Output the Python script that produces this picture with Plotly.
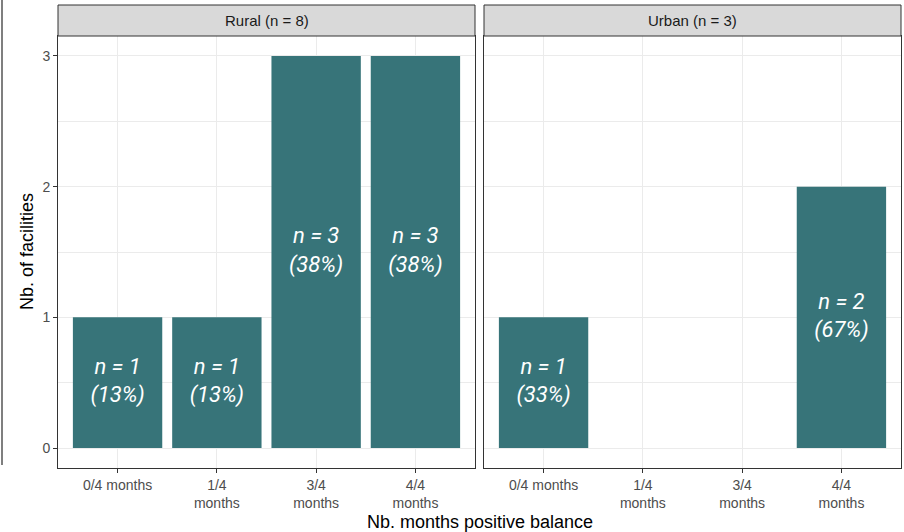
import plotly.graph_objects as go

categories = ["0/4 months", "1/4<br>months", "3/4<br>months", "4/4<br>months"]
facets = ["Rural (n = 8)", "Urban (n = 3)"]
rural_counts = [1, 1, 3, 3]
rural_pct = [13, 13, 38, 38]
urban_counts = [1, None, None, 2]
urban_pct = [33, None, None, 67]
y_ticks = [0, 1, 2, 3]

W, H = 904, 532
BAR = "#377479"
GRID = "#ebebeb"
BORDER = "#333333"
FONT = "Liberation Sans, Arial"

def px(x):
    return x / W

def py(y):
    return 1 - y / H

panels = [(58, 475), (484, 901)]
top, bottom = 36, 468
strip_top = 5

fig = go.Figure()

series = [(rural_counts, rural_pct), (urban_counts, urban_pct)]
for i, (counts, pcts) in enumerate(series):
    xa = "x" if i == 0 else "x2"
    ya = "y" if i == 0 else "y2"
    fig.add_trace(go.Bar(x=categories, y=counts, marker=dict(color=BAR, line=dict(width=0)),
                         width=0.9, xaxis=xa, yaxis=ya, showlegend=False, hoverinfo="skip"))
    tx, ty, tt = [], [], []
    for c, n, p in zip(categories, counts, pcts):
        if n:
            tx.append(c)
            ty.append(n / 2)
            tt.append(f"<i>n = {n}</i><br><i>({p}%)</i>")
    fig.add_trace(go.Scatter(x=tx, y=ty, text=tt, mode="text", xaxis=xa, yaxis=ya,
                             textfont=dict(family="Roboto", size=22, color="white"),
                             showlegend=False, hoverinfo="skip"))

axis_common = dict(showgrid=True, gridcolor=GRID, gridwidth=1, zeroline=False,
                   showline=True, linecolor=BORDER, linewidth=1, mirror=True,
                   tickfont=dict(family=FONT, size=14, color="#4d4d4d"))

yr = [-0.153, 3.153]
layout = dict(
    width=W, height=H, margin=dict(l=0, r=0, t=0, b=0),
    plot_bgcolor="white", paper_bgcolor="white",
    xaxis=dict(domain=[px(panels[0][0]), px(panels[0][1])], anchor="y",
               categoryorder="array", categoryarray=categories, range=[-0.6, 3.6],
               ticks="outside", ticklen=4, tickcolor=BORDER, **axis_common),
    xaxis2=dict(domain=[px(panels[1][0]), px(panels[1][1])], anchor="y2",
                categoryorder="array", categoryarray=categories, range=[-0.6, 3.6],
                ticks="outside", ticklen=4, tickcolor=BORDER, **axis_common),
    yaxis=dict(domain=[py(bottom), py(top)], anchor="x", range=yr, tickvals=y_ticks,
               ticks="outside", ticklen=4, tickcolor=BORDER,
               minor=dict(tickvals=[0.5, 1.5, 2.5], showgrid=True, gridcolor=GRID, ticks=""),
               **axis_common),
    yaxis2=dict(domain=[py(bottom), py(top)], anchor="x2", range=yr, tickvals=y_ticks,
                showticklabels=False, ticks="",
                minor=dict(tickvals=[0.5, 1.5, 2.5], showgrid=True, gridcolor=GRID, ticks=""),
                **axis_common),
)
fig.update_layout(**layout)

shapes = []
annotations = []
for (x0, x1), name in zip(panels, facets):
    shapes.append(dict(type="rect", xref="paper", yref="paper", x0=px(x0), x1=px(x1),
                       y0=py(top), y1=py(strip_top), fillcolor="#d9d9d9",
                       line=dict(color=BORDER, width=1), layer="above"))
    annotations.append(dict(text=name, xref="paper", yref="paper", x=px((x0 + x1) / 2),
                            y=py((top + strip_top) / 2), showarrow=False, xanchor="center",
                            yanchor="middle", font=dict(family=FONT, size=15, color="#1a1a1a")))

shapes.append(dict(type="line", xref="paper", yref="paper", x0=px(2), x1=px(2), y0=py(0), y1=py(465),
                   line=dict(color="#555555", width=1.5)))

annotations.append(dict(text="Nb. of facilities", xref="paper", yref="paper", x=px(27),
                        y=py((top + bottom) / 2), textangle=-90, showarrow=False,
                        xanchor="center", yanchor="middle",
                        font=dict(family=FONT, size=18, color="black")))
annotations.append(dict(text="Nb. months positive balance", xref="paper", yref="paper",
                        x=px(480), y=py(522), showarrow=False, xanchor="center", yanchor="middle",
                        font=dict(family=FONT, size=18, color="black")))

fig.update_layout(shapes=shapes, annotations=annotations)
fig.write_html("out.html", config={"displayModeBar": False},
               post_script="document.body.style.margin='0';document.body.style.padding='0';")
